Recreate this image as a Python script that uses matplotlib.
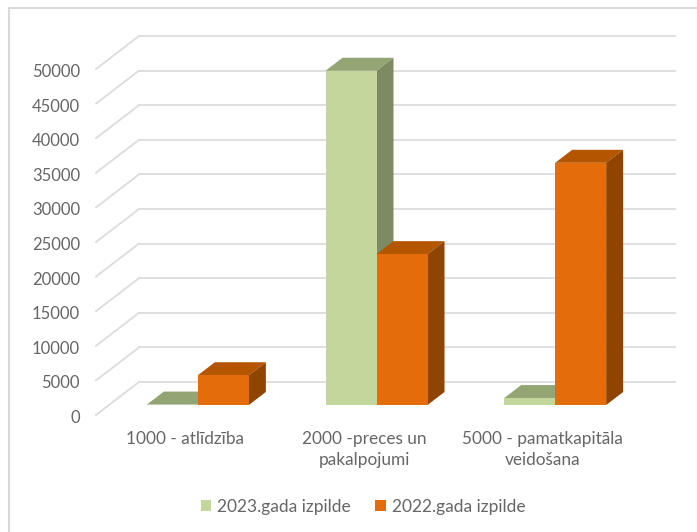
import matplotlib
matplotlib.use("Agg")
import matplotlib.pyplot as plt
from matplotlib.patches import Patch, Polygon, Rectangle

# Datos
categorias = ["1000 - atlīdzība", "2000 -preces un\npakalpojumi", "5000 - pamatkapitāla\nveidošana"]
izpilde_2023 = [60, 48300, 1000]
izpilde_2022 = [4300, 21800, 35000]
ticks_y = [0, 5000, 10000, 15000, 20000, 25000, 30000, 35000, 40000, 45000, 50000]
serie_2023 = "2023.gada izpilde"
serie_2022 = "2022.gada izpilde"

# Tamano de la figura en pixeles y pared trasera
W, H = 697, 532
IZQ, DER, ARR, ABA = 139, 675, 36, 382

GRIS_TEXTO = "#666666"
GRIS_LINEA = "#dcdcdc"
VERDE = ("#c3d69b", "#93a573", "#7e8a63")
NARANJA = ("#e46c0a", "#b45500", "#8f4400")

plt.rcParams["font.family"] = ["Lato", "DejaVu Sans"]

fig = plt.figure(figsize=(W / 100, H / 100), dpi=100)
ax = fig.add_axes([IZQ / W, 1 - ABA / H, (DER - IZQ) / W, (ABA - ARR) / H])
ax.set_xlim(-0.5, 2.5)
ax.set_ylim(0, 50000)
ax.axis("off")

# Unidades de datos por pixel
ux = 3 / (DER - IZQ)
uy = 50000 / (ABA - ARR)

# Marco exterior: solo se ven los lados superior e izquierdo
fig.add_artist(Rectangle((9 / W, 1 - 560 / H), 720 / W, 552 / H, transform=fig.transFigure,
                         fill=False, edgecolor="#d9d9d9", linewidth=1.5))

# Rejilla: pared trasera y pared lateral
for v in ticks_y:
    ax.plot([-0.5, 2.5], [v, v], color=GRIS_LINEA, linewidth=1.3, zorder=1, clip_on=False)
    ax.plot([-0.5 - 43 * ux, -0.5], [v - 33 * uy, v], color=GRIS_LINEA, linewidth=1.3, zorder=1, clip_on=False)
    ax.text(-0.5 - 59 * ux, v - 36 * uy, str(v), ha="right", va="center", fontsize=12, color=GRIS_TEXTO)


def barra(x0, valor, colores, orden):
    """Dibuja una barra con cara frontal, superior y lateral."""
    ancho = 51 * ux
    base_x = x0 - 30.5 * ux
    base_y = -23 * uy
    dx = 17 * ux
    dy = 13 * uy
    x1 = base_x + ancho
    top = base_y + valor
    ax.add_patch(Polygon([(base_x, top), (x1, top), (x1 + dx, top + dy), (base_x + dx, top + dy)],
                         facecolor=colores[1], edgecolor="none", zorder=orden, clip_on=False))
    ax.add_patch(Polygon([(x1, base_y), (x1 + dx, base_y + dy), (x1 + dx, top + dy), (x1, top)],
                         facecolor=colores[2], edgecolor="none", zorder=orden, clip_on=False))
    ax.add_patch(Polygon([(base_x, base_y), (x1, base_y), (x1, top), (base_x, top)],
                         facecolor=colores[0], edgecolor="none", zorder=orden, clip_on=False))


for i, cat in enumerate(categorias):
    barra(i - 51 * ux, izpilde_2023[i], VERDE, 2 + i)
    barra(i, izpilde_2022[i], NARANJA, 2.5 + i)
    ax.text(i - 43 * ux, -23 * uy - 26 * uy, cat, ha="center", va="top", fontsize=12.4,
            color=GRIS_TEXTO, linespacing=1.35)

handles = [Patch(facecolor=VERDE[0], label=serie_2023), Patch(facecolor=NARANJA[0], label=serie_2022)]
fig.legend(handles=handles, loc="center", bbox_to_anchor=(363 / W, 1 - 507 / H), ncol=2, frameon=False,
           fontsize=12.5, labelcolor=GRIS_TEXTO, handlelength=0.6, handleheight=0.6,
           handletextpad=0.35, columnspacing=1.4)

fig.savefig("out.png", dpi=100, facecolor="white")
